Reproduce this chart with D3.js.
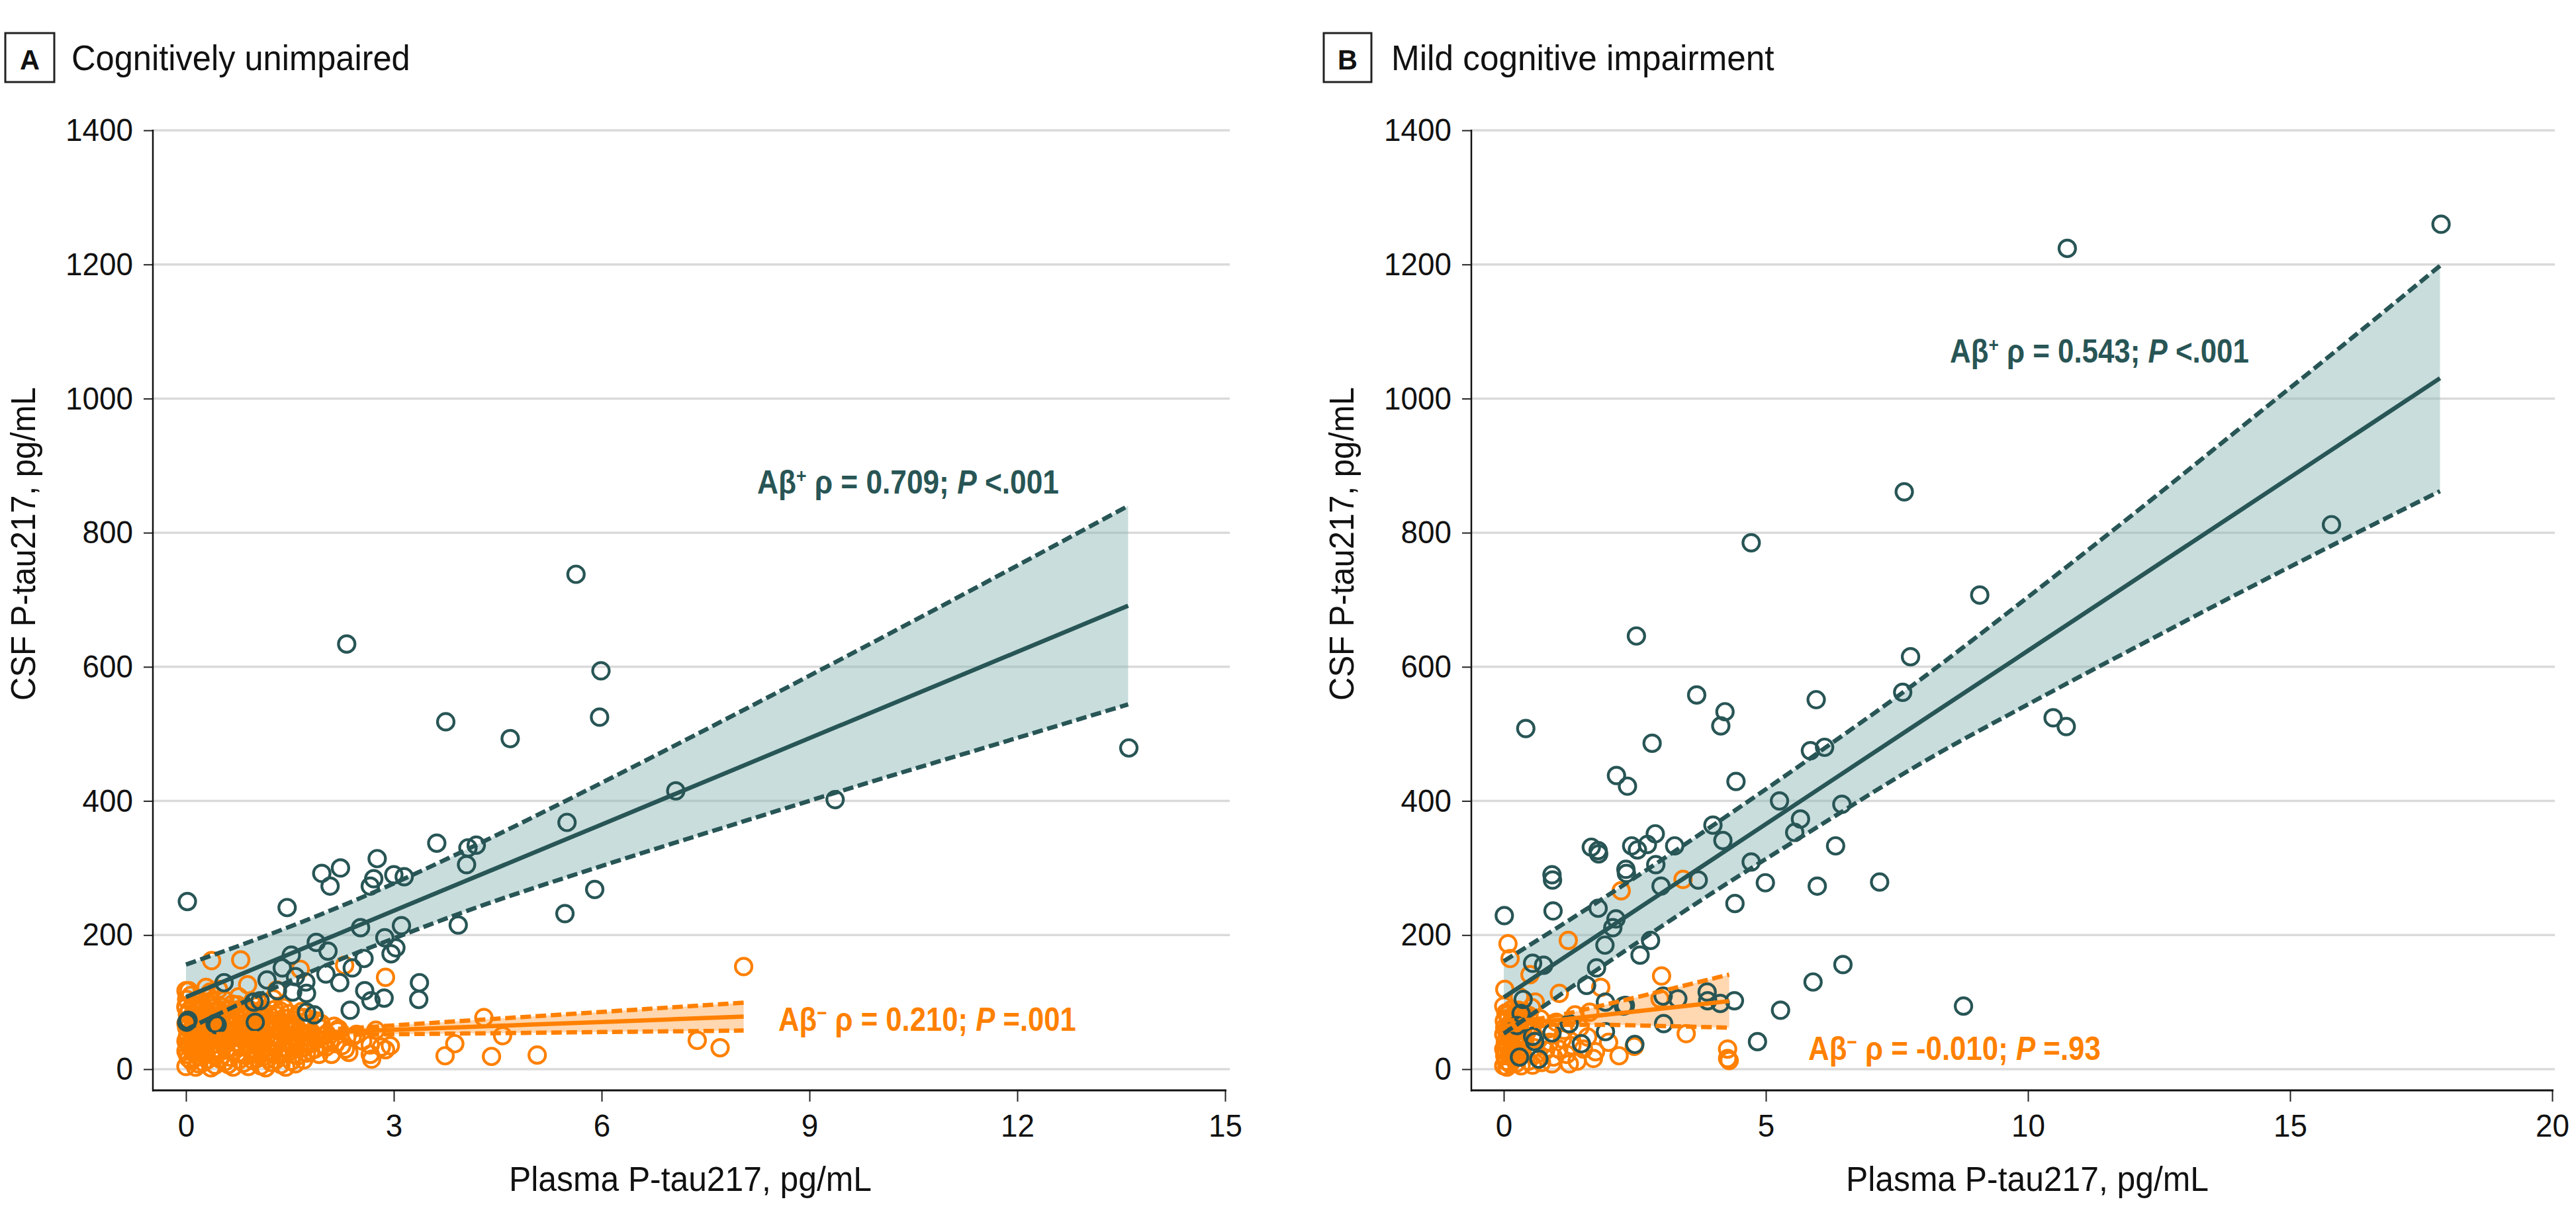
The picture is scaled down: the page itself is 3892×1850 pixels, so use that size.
<!DOCTYPE html>
<html><head><meta charset="utf-8">
<script src="https://cdn.jsdelivr.net/npm/d3@7"></script>
<style>html,body{margin:0;padding:0;background:#fff;} svg{display:block}</style>
</head><body>
<svg id="chart" width="3892" height="1850"></svg>
<script>
// ---------------- DATA ----------------
const yTickValues = [0, 200, 400, 600, 800, 1000, 1200, 1400];
const cuXTicks = [0, 3, 6, 9, 12, 15];
const mciXTicks = [0, 5, 10, 15, 20];
const panelLetters = ["A", "B"];
const panelTitles = ["Cognitively unimpaired", "Mild cognitive impairment"];
const xAxisTitle = "Plasma P-tau217, pg/mL";
const yAxisTitle = "CSF P-tau217, pg/mL";
const rhoPos = ["0.709", "0.543"];
const pPos = ["<.001", "<.001"];
const rhoNeg = ["0.210", "-0.010"];
const pNeg = ["=.001", "=.93"];

// Panel A, Aβ+ (plasma, CSF)
const cuAbPos = [[0.02,250],[1.46,241],[3.75,518],[4.68,493],[3.62,337],[4.07,330],[4.19,334],[4.05,305],[3.93,215],[2.76,314],
[1.96,292],[2.23,300],[2.08,273],[2.71,284],[2.66,273],[3.00,290],[3.15,287],[2.52,211],[1.88,189],[2.05,176],[3.11,214],[2.87,196],
[3.03,181],[2.96,172],[1.52,170],[1.39,151],[2.57,165],[2.40,151],[2.02,142],[2.22,129],[3.37,129],[3.36,104],[2.58,117],[2.67,102],
[2.86,106],[2.37,88],[0.55,129],[1.17,133],[1.32,117],[1.54,115],[1.73,130],[1.74,113],[1.58,138],[0.98,100],[1.07,102],[1.74,85],
[1.85,81],[0.01,70],[0.42,68],[1.00,70],[0.03,73],[0.45,66],[5.63,738],[5.99,594],[5.97,525],[7.07,415],[5.50,368],[9.37,402],
[13.61,479],[5.90,268],[5.47,232],[2.32,634]];

// Panel A, Aβ− (plasma, CSF)
const cuAbNeg = [[0.37,162],[0.79,163],[2.29,155],[2.88,137],[4.30,77],[4.57,50],[3.88,38],[3.74,20],[4.41,19],[5.07,21],[8.05,153],
[7.38,43],[7.71,32],[2.74,58],[2.66,36],[2.66,22],[2.68,15],[2.82,33],[2.88,29],[2.95,35],[2.02,33],[2.16,38],[2.30,30],[1.78,75],
[1.76,62],[2.10,22],[2.25,35],[2.40,48],[2.55,42],[2.00,50],[2.20,60],[1.95,68],[2.35,25],[0.00,117],[0.00,94],[0.35,115],[0.47,119],
[0.37,102],[0.74,96],[0.61,90],[1.65,149],
[0.00,4],[0.08,12],[0.18,8],[0.31,14],[0.42,6],[0.56,11],[0.68,3],[0.83,9],[0.97,13],[1.08,5],[1.23,10],[1.37,7],[1.52,12],[1.18,15],
[0.02,22],[0.10,26],[0.21,19],[0.29,24],[0.39,21],[0.51,27],[0.63,18],[0.74,23],[0.87,20],[1.01,25],[1.13,19],[1.26,24],[1.36,21],[1.49,26],[1.62,20],[1.74,24],
[0.05,33],[0.14,36],[0.24,30],[0.36,35],[0.44,31],[0.57,37],[0.66,32],[0.79,35],[0.91,30],[1.03,36],[1.16,32],[1.29,37],[1.41,31],[1.56,35],[1.69,33],[1.86,30],[1.98,36],
[0.00,42],[0.09,46],[0.19,41],[0.33,45],[0.46,43],[0.59,48],[0.71,40],[0.81,45],[0.94,42],[1.09,47],[1.21,41],[1.34,46],[1.46,43],[1.61,47],[1.73,41],[1.91,45],[2.08,42],
[0.03,52],[0.13,56],[0.26,50],[0.37,55],[0.49,53],[0.61,57],[0.73,51],[0.86,55],[0.99,52],[1.11,57],[1.24,50],[1.39,54],[1.51,58],[1.66,52],[1.81,55],[2.03,53],[2.19,57],[2.46,52],
[0.01,62],[0.16,66],[0.27,61],[0.41,65],[0.53,63],[0.67,67],[0.79,60],[0.93,64],[1.04,61],[1.17,66],[1.31,62],[1.44,67],[1.59,63],[1.76,65],[1.94,61],[2.14,64],
[0.05,72],[0.17,76],[0.31,71],[0.46,75],[0.61,73],[0.74,77],[0.89,71],[1.01,74],[1.14,78],[1.27,72],[1.41,76],[1.56,73],[1.71,77],[1.89,72],
[0.02,82],[0.15,86],[0.26,81],[0.41,85],[0.54,83],[0.71,87],[0.84,81],[1.02,85],[1.19,82],[1.36,87],[1.49,83],[1.67,86],
[0.00,92],[0.11,96],[0.23,91],[0.36,95],[0.51,93],[0.67,97],[0.83,91],[1.01,94],[1.17,98],[1.41,92],
[0.01,104],[0.07,110],[0.21,102],[0.34,107],[0.56,103],[0.76,108],[0.96,101],[1.26,105],
[0.04,117],[0.29,122],[0.89,126],[1.31,118],
[0.04,16],[0.14,3],[0.25,10],[0.36,2],[0.49,15],[0.61,7],[0.77,14],[0.90,4],[1.03,16],[1.15,2],[1.30,14],[1.44,3],[1.58,8],[1.70,14],
[0.00,27],[0.12,29],[0.26,27],[0.45,26],[0.58,29],[0.70,28],[0.95,27],[1.08,29],[1.21,28],[1.45,29],[1.56,22],[1.80,27],[1.92,22],
[0.04,38],[0.17,39],[0.30,39],[0.40,37],[0.52,40],[0.75,39],[0.87,38],[0.99,40],[1.12,38],[1.25,40],[1.38,39],[1.52,40],[1.65,38],[1.80,38],
[0.02,48],[0.16,49],[0.28,48],[0.42,49],[0.55,48],[0.67,49],[0.77,48],[0.91,49],[1.04,49],[1.16,48],[1.29,49],[1.43,49],[1.56,47],[1.70,49],[1.86,49],
[0.07,58],[0.21,59],[0.33,58],[0.46,59],[0.57,60],[0.70,59],[0.85,59],[0.98,58],[1.22,59],[1.36,58],[1.49,60],[1.63,58],
[0.00,68],[0.11,69],[0.23,68],[0.36,68],[0.48,69],[0.59,70],[0.72,69],[0.85,68],[0.97,69],[1.09,70],[1.22,68],[1.36,70],[1.51,68],[1.66,70],
[0.09,80],[0.21,79],[0.35,79],[0.50,78],[0.65,80],[0.80,79],[0.94,80],[1.08,80],[1.31,80],[1.60,80],
[0.05,88],[0.19,89],[0.30,88],[0.47,89],[0.62,88],[0.77,89],[0.93,88],[1.10,89],[1.28,89]];

// Panel B, Aβ+ (plasma, CSF)
const mciAbPos = [[10.75,1224],[17.88,1260],[7.64,861],[4.72,785],[9.08,707],[2.53,646],[7.76,615],[7.61,562],[3.68,558],[4.22,533],
[5.96,551],[0.42,508],[4.14,512],[10.48,524],[10.73,511],[15.79,812],[8.77,94],[2.83,486],[2.15,438],[2.36,422],[4.43,429],[5.85,475],
[6.12,480],[5.26,400],[6.45,395],[5.66,373],[5.55,353],[6.33,333],[3.99,364],[4.18,341],[4.72,309],[4.99,278],[5.98,273],[4.41,247],
[3.71,282],[3.00,273],[2.90,305],[2.89,351],[3.26,333],[2.74,335],[2.44,333],[2.55,327],[1.67,331],[1.81,321],[1.80,326],[2.33,298],
[2.34,292],[0.92,290],[0.93,282],[0.94,236],[0.01,229],[1.80,240],[2.14,224],[2.08,211],[1.93,185],[2.80,192],[2.60,170],[0.55,158],
[0.76,155],[1.77,151],[1.58,125],[0.37,104],[0.33,83],[0.25,65],[0.55,49],[0.59,41],[0.92,54],[1.25,68],[1.48,38],[0.30,18],[0.67,15],
[1.94,100],[1.94,56],[2.28,94],[2.32,95],[3.04,109],[3.32,105],[3.05,68],[3.88,115],[3.89,102],[4.13,98],[4.40,102],[2.50,37],[4.84,41],
[5.28,88],[5.90,130],[6.47,156],[7.17,279]];

// Panel B, Aβ− (plasma, CSF)
const mciAbNeg = [[0.08,187],[0.12,165],[1.23,192],[2.24,266],[3.42,283],[0.50,141],[0.02,119],[1.06,113],[1.85,122],[3.01,139],
[2.98,105],[3.48,53],[4.27,30],[4.30,13],[4.27,16],[2.49,34],[1.71,16],[1.75,26],[1.64,85],[1.36,81],[0.53,92],[0.00,94],
[0.00,5],[0.05,12],[0.12,8],[0.20,15],[0.02,20],[0.10,25],[0.18,22],[0.28,18],[0.00,30],[0.08,34],[0.16,31],[0.26,36],[0.35,28],
[0.03,40],[0.11,44],[0.21,42],[0.30,47],[0.40,40],[0.00,52],[0.07,56],[0.15,50],[0.24,58],[0.33,53],[0.44,55],[0.02,62],[0.10,66],
[0.19,61],[0.29,68],[0.38,64],[0.01,72],[0.09,76],[0.17,74],[0.27,78],[0.04,84],[0.13,88],[0.22,83],[0.35,86],[0.48,80],[0.47,12],
[0.55,6],[0.62,22],[0.72,10],[0.58,32],[0.66,44],[0.80,28],[0.88,40],[0.95,18],[1.05,30],[1.12,45],[1.20,22],[1.30,35],[1.40,12],
[1.52,30],[1.60,48],[0.85,60],[1.00,70],[1.15,58],[0.70,75],[1.45,62],[0.92,8],[1.25,8],[2.00,40],[2.20,20],[0.60,100],[0.30,108],
[0.06,3],[0.15,18],[0.24,9],[0.33,5],[0.04,27],[0.14,38],[0.25,26],[0.37,34],[0.06,47],[0.19,54],[0.28,43],[0.39,49],[0.05,58],
[0.14,70],[0.24,66],[0.34,75],[0.07,81],[0.19,79],[0.28,88],[0.42,70]];

// Fitted lines with 95% CI
const cuPosFitX = [0, 1, 2, 3, 4, 6, 8, 10, 12, 13.6];
const cuPosFit  = [107.5, 150.4, 193.3, 236.2, 279.1, 364.9, 450.7, 536.5, 622.3, 691];
const cuPosLo   = [59, 108, 154, 195, 234, 303, 368, 432, 494, 544];
const cuPosHi   = [156, 193, 233, 277, 325, 427, 533, 641, 751, 840];

const cuNegFitX = [0, 1, 2, 3, 4, 5, 6, 7, 8.05];
const cuNegFit  = [47, 50.9, 54.8, 58.7, 62.6, 66.5, 70.4, 74.3, 78.4];
const cuNegLo   = [42.7, 47.8, 50.5, 52.1, 53.2, 54.3, 55.4, 56.4, 57.6];
const cuNegHi   = [51.3, 54, 59.1, 65.3, 72, 78.7, 85.4, 92.2, 99.2];

const mciPosFitX = [0, 2, 4, 6, 8, 10, 12, 14, 16, 17.86];
const mciPosFit  = [107, 210.4, 313.8, 417.2, 520.6, 624, 727.4, 830.8, 934.2, 1030.4];
const mciPosLo   = [53, 160, 264, 362, 458, 544, 627, 709, 789, 862];
const mciPosHi   = [161, 260, 364, 472, 584, 704, 827, 953, 1079, 1198];

const mciNegFitX = [0, 0.5, 1, 2, 3, 4.3];
const mciNegFit  = [64.5, 68.8, 73.1, 81.7, 90.3, 101.5];
const mciNegLo   = [56.4, 63.7, 66.2, 66, 64.4, 61.9];
const mciNegHi   = [72.6, 73.9, 80, 97.4, 116.2, 141.1];

// ---------------- STYLE / LAYOUT ----------------
const FONT = '"Liberation Sans", Arial, sans-serif';
const TEAL = "#285555", ORANGE = "#ff8000", INK = "#111";
const svg = d3.select("#chart");
svg.append("rect").attr("width", 3892).attr("height", 1850).attr("fill", "#fff");

const y = d3.scaleLinear().domain([0, 1400]).range([1616, 197]);
const AXIS_Y = 1648;

function hfit(sel, targetW, ax, ay) {
  const w = sel.node().getBBox().width;
  const s = targetW / w;
  sel.attr("transform", `translate(${ax},${ay}) scale(${s},1) translate(${-ax},${-ay})`);
}

// horizontal squeeze factor for tick labels, from the width of "1400"
const probe = svg.append("text").attr("font-family", FONT).attr("font-size", 49).text("1400");
const TICK_S = 102 / probe.node().getBBox().width;
probe.remove();

function zip(xs, a, b, c) { return xs.map((v, i) => ({x: v, f: a[i], lo: b[i], hi: c[i]})); }

const panels = [
  {letter: panelLetters[0], title: panelTitles[0], box: [8, 50, 74, 74], titleX: 108, titleW: 512,
   axisX: 231, gridRight: 1858, xDomain: [0, 15], xRange: [281, 1851], xTicks: cuXTicks,
   yTitleX: 53, xTitleCx: 1043,
   pos: cuAbPos, neg: cuAbNeg,
   posFit: zip(cuPosFitX, cuPosFit, cuPosLo, cuPosHi), negFit: zip(cuNegFitX, cuNegFit, cuNegLo, cuNegHi),
   annPos: {x: 1144, y: 746, w: 456, rho: rhoPos[0], p: pPos[0]},
   annNeg: {x: 1176, y: 1558, w: 450, rho: rhoNeg[0], p: pNeg[0]}},
  {letter: panelLetters[1], title: panelTitles[1], box: [2000, 50, 72, 74], titleX: 2102, titleW: 579,
   axisX: 2223, gridRight: 3860, xDomain: [0, 20], xRange: [2272, 3856], xTicks: mciXTicks,
   yTitleX: 2045, xTitleCx: 3063,
   pos: mciAbPos, neg: mciAbNeg,
   posFit: zip(mciPosFitX, mciPosFit, mciPosLo, mciPosHi), negFit: zip(mciNegFitX, mciNegFit, mciNegLo, mciNegHi),
   annPos: {x: 2946, y: 548, w: 452, rho: rhoPos[1], p: pPos[1]},
   annNeg: {x: 2732, y: 1602, w: 442, rho: rhoNeg[1], p: pNeg[1]}}
];

panels.forEach(P => {
  const g = svg.append("g");
  const x = d3.scaleLinear().domain(P.xDomain).range(P.xRange);

  // panel letter box + title
  g.append("rect").attr("x", P.box[0]).attr("y", P.box[1]).attr("width", P.box[2]).attr("height", P.box[3])
    .attr("fill", "#fff").attr("stroke", "#222").attr("stroke-width", 3);
  const lt = g.append("text").attr("x", P.box[0] + P.box[2] / 2).attr("y", 105).attr("text-anchor", "middle")
    .attr("font-family", FONT).attr("font-weight", 700).attr("font-size", 43).attr("fill", INK).text(P.letter);
  hfit(lt, 30, P.box[0] + P.box[2] / 2, 105);
  const tt = g.append("text").attr("x", P.titleX).attr("y", 106).attr("font-family", FONT)
    .attr("font-size", 53).attr("fill", INK).text(P.title);
  hfit(tt, P.titleW, P.titleX, 106);

  // gridlines
  g.append("g").selectAll("line").data(yTickValues).join("line")
    .attr("x1", P.axisX).attr("x2", P.gridRight).attr("y1", d => y(d)).attr("y2", d => y(d))
    .attr("stroke", "#dadada").attr("stroke-width", 3.5);

  // y axis
  const ya = g.append("g").attr("transform", `translate(${P.axisX},0)`)
    .call(d3.axisLeft(y).tickValues(yTickValues).tickFormat(d3.format("d")).tickSize(14).tickPadding(16).tickSizeOuter(0));
  ya.select(".domain").remove();
  ya.selectAll(".tick line").attr("stroke", "#222").attr("stroke-width", 2);
  ya.selectAll(".tick text").attr("font-family", FONT).attr("font-size", 49).attr("fill", INK)
    .attr("transform", `translate(-30,0) scale(${TICK_S},1) translate(30,0)`);
  g.append("line").attr("x1", P.axisX).attr("x2", P.axisX).attr("y1", y(1400) - 1).attr("y2", AXIS_Y + 1.5)
    .attr("stroke", "#111").attr("stroke-width", 2.5);

  // x axis
  const xa = g.append("g").attr("transform", `translate(0,${AXIS_Y})`)
    .call(d3.axisBottom(x).tickValues(P.xTicks).tickFormat(d3.format("d")).tickSize(17).tickPadding(18).tickSizeOuter(0));
  xa.select(".domain").remove();
  xa.selectAll(".tick line").attr("stroke", "#222").attr("stroke-width", 2);
  xa.selectAll(".tick text").attr("font-family", FONT).attr("font-size", 49).attr("fill", INK)
    .attr("transform", `scale(${TICK_S},1)`);
  g.append("line").attr("x1", P.axisX - 1).attr("x2", x(P.xDomain[1]) + 2).attr("y1", AXIS_Y).attr("y2", AXIS_Y)
    .attr("stroke", "#111").attr("stroke-width", 3);

  // axis titles
  const xt = g.append("text").attr("x", P.xTitleCx).attr("y", 1800).attr("text-anchor", "middle")
    .attr("font-family", FONT).attr("font-size", 52).attr("fill", INK).text(xAxisTitle);
  hfit(xt, 548, P.xTitleCx, 1800);
  const ytg = g.append("g").attr("transform", `translate(${P.yTitleX},822) rotate(-90)`);
  const yt = ytg.append("text").attr("x", 0).attr("y", 0).attr("text-anchor", "middle")
    .attr("font-family", FONT).attr("font-size", 52).attr("fill", INK).text(yAxisTitle);
  hfit(yt, 474, 0, 0);

  // CI bands
  const area = d3.area().x(d => x(d.x)).y0(d => y(d.lo)).y1(d => y(d.hi)).curve(d3.curveMonotoneX);
  g.append("path").datum(P.posFit).attr("d", area).attr("fill", "rgb(138,180,180)").attr("fill-opacity", 0.46);
  g.append("path").datum(P.negFit).attr("d", area).attr("fill", "rgb(255,160,70)").attr("fill-opacity", 0.42);

  // points
  g.append("g").selectAll("circle").data(P.neg).join("circle")
    .attr("cx", d => x(d[0])).attr("cy", d => y(d[1])).attr("r", 12.5)
    .attr("fill", "none").attr("stroke", ORANGE).attr("stroke-width", 4.2);
  g.append("g").selectAll("circle").data(P.pos).join("circle")
    .attr("cx", d => x(d[0])).attr("cy", d => y(d[1])).attr("r", 12.5)
    .attr("fill", "none").attr("stroke", TEAL).attr("stroke-width", 4.2);

  // fit + CI lines
  [[P.negFit, ORANGE], [P.posFit, TEAL]].forEach(([data, col]) => {
    const fl = d3.line().x(d => x(d.x)).y(d => y(d.f));
    const lo = d3.line().x(d => x(d.x)).y(d => y(d.lo)).curve(d3.curveMonotoneX);
    const hi = d3.line().x(d => x(d.x)).y(d => y(d.hi)).curve(d3.curveMonotoneX);
    g.append("path").datum(data).attr("d", lo).attr("fill", "none").attr("stroke", col)
      .attr("stroke-width", 6.5).attr("stroke-dasharray", "16,7");
    g.append("path").datum(data).attr("d", hi).attr("fill", "none").attr("stroke", col)
      .attr("stroke-width", 6.5).attr("stroke-dasharray", "16,7");
    g.append("path").datum(data).attr("d", fl).attr("fill", "none").attr("stroke", col)
      .attr("stroke-width", 6.5);
  });

  // annotations
  function annot(a, color, sup) {
    const t = g.append("text").attr("x", a.x).attr("y", a.y).attr("fill", color)
      .attr("font-family", FONT).attr("font-size", 50).attr("font-weight", 700);
    t.append("tspan").text("Aβ");
    t.append("tspan").attr("dy", -17).attr("font-size", 30).text(sup);
    t.append("tspan").attr("dy", 17).text(" ρ = " + a.rho + "; ");
    t.append("tspan").attr("font-style", "italic").text("P");
    t.append("tspan").text(" " + a.p);
    hfit(t, a.w, a.x, a.y);
  }
  annot(P.annPos, TEAL, "+");
  annot(P.annNeg, ORANGE, "−");
});
</script>
</body></html>
